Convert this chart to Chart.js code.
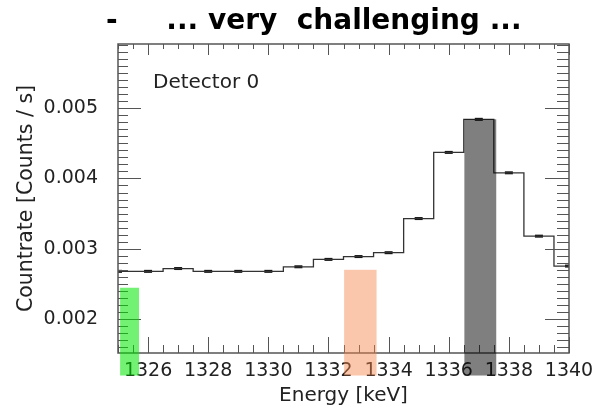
<!DOCTYPE html>
<html>
<head>
<meta charset="utf-8">
<script src="https://cdn.jsdelivr.net/npm/chart.js@4/dist/chart.umd.min.js"></script>
<style>
    html, body { margin: 0; padding: 0; background: #fff; }
    #wrap { width: 595px; height: 410px; }
</style>
</head>
<body>
<div id="wrap"><canvas id="myChart" width="595" height="410"></canvas></div>
<script>
// Spectrum of detector 0, one bin per keV
const energy = [1325, 1326, 1327, 1328, 1329, 1330, 1331, 1332, 1333, 1334, 1335, 1336, 1337, 1338, 1339, 1340];
const countrate = [0.00268, 0.00268, 0.00272, 0.00268, 0.00268, 0.00268, 0.002745, 0.00285, 0.00289, 0.002945,
    0.00343, 0.00437, 0.00484, 0.00408, 0.00318, 0.002755];

const xTickValues = [1326, 1328, 1330, 1332, 1334, 1336, 1338, 1340];
const yTickValues = [0.002, 0.003, 0.004, 0.005];

// shaded energy windows
const bandFrom = [1325.07, 1332.52, 1336.52];
const bandTo = [1325.7, 1333.6, 1337.58];
const bandTop = [0.002447, 0.002702, 0.00484];
const bandBottom = [0.0012, 0.0012, 0.0012];
const bandColours = ['rgba(0, 230, 0, 0.55)', 'rgba(245, 130, 70, 0.45)', 'rgba(0, 0, 0, 0.5)'];

const LINE_COLOUR = '#333';
const AXIS_COLOUR = '#555';
const FONT = 'DejaVu Sans';

// frame with inward ticks on all four sides
const framePlugin = {
    id: 'frame',
    afterDatasetsDraw(chart) {
        const { ctx, chartArea: a, scales: { x, y } } = chart;
        ctx.save();
        ctx.strokeStyle = AXIS_COLOUR;
        ctx.lineWidth = 1;
        ctx.beginPath();
        for (let k = 2650; k <= 2680; k++) {
            const px = Math.round(x.getPixelForValue(k / 2)) + 0.5;
            const major = k % 4 === 0;
            ctx.moveTo(px, a.bottom);
            ctx.lineTo(px, a.bottom - (major ? 16 : 8));
            ctx.moveTo(px, a.top);
            ctx.lineTo(px, a.top + (major ? 11 : 5));
        }
        for (let k = 16; k <= 59; k++) {
            const py = Math.round(y.getPixelForValue(k / 10000)) + 0.5;
            const major = k % 10 === 0;
            ctx.moveTo(a.left, py);
            ctx.lineTo(a.left + (major ? 23 : 10), py);
            ctx.moveTo(a.right, py);
            ctx.lineTo(a.right - (major ? 24 : 12), py);
        }
        ctx.stroke();
        ctx.lineWidth = 1.5;
        ctx.strokeRect(a.left, a.top, a.right - a.left, a.bottom - a.top);

        ctx.fillStyle = '#222';
        ctx.font = '20px "' + FONT + '"';
        ctx.textBaseline = 'middle';
        ctx.fillText('Detector 0', a.left + 35, a.top + 39);
        ctx.restore();
    },
    afterDraw(chart) {
        const { ctx, scales: { x, y } } = chart;
        ctx.save();
        bandFrom.forEach((from, i) => {
            const x0 = x.getPixelForValue(from);
            const x1 = x.getPixelForValue(bandTo[i]);
            const y0 = y.getPixelForValue(bandTop[i]);
            const y1 = y.getPixelForValue(bandBottom[i]);
            ctx.fillStyle = bandColours[i];
            ctx.fillRect(x0, y0, x1 - x0, y1 - y0);
        });
        ctx.restore();
    }
};

const histData = energy.map((e, i) => ({ x: e, y: countrate[i] }));

const ctx = document.getElementById('myChart');
const myChart = new Chart(ctx, {
    type: 'line',
    data: {
        datasets: [{
            label: 'Countrate',
            data: histData,
            stepped: 'middle',
            borderColor: LINE_COLOUR,
            borderWidth: 1.3,
            pointRadius: 0,
            fill: false
        }, {
            label: 'Errors',
            data: histData,
            showLine: false,
            pointStyle: 'line',
            pointRadius: 4,
            pointBorderWidth: 3,
            pointBorderColor: '#111',
            pointBackgroundColor: '#111'
        }]
    },
    options: {
        responsive: false,
        animation: false,
        layout: { padding: { top: 0, right: 26, bottom: 0, left: 0 } },
        plugins: {
            legend: { display: false },
            tooltip: { enabled: false },
            title: {
                display: true,
                text: '      -     ... very  challenging ...',
                color: '#000',
                font: { family: FONT, size: 28, weight: 'bold' },
                padding: { top: 5, bottom: 5.4 }
            }
        },
        scales: {
            x: {
                type: 'linear',
                min: 1325,
                max: 1340,
                grid: { display: false },
                border: { display: false },
                afterBuildTicks: (scale) => { scale.ticks = xTickValues.map(v => ({ value: v })); },
                afterFit: (scale) => {
                    scale.height = 57;
                    scale.paddingLeft = 0;
                    scale.paddingRight = 0;
                },
                ticks: {
                    color: '#222',
                    padding: -1,
                    maxRotation: 0,
                    autoSkip: false,
                    font: { family: FONT, size: 19 },
                    callback: (v) => String(v)
                },
                title: {
                    display: true,
                    text: 'Energy [keV]',
                    color: '#222',
                    font: { family: FONT, size: 20 },
                    padding: { top: 0, bottom: 2 }
                }
            },
            y: {
                type: 'linear',
                min: 0.00152,
                max: 0.00591,
                grid: { display: false },
                border: { display: false },
                afterBuildTicks: (scale) => { scale.ticks = yTickValues.map(v => ({ value: v })); },
                afterFit: (scale) => { scale.width = 118; },
                ticks: {
                    color: '#222',
                    padding: 12,
                    font: { family: FONT, size: 19 },
                    callback: (v) => v.toFixed(3)
                },
                title: {
                    display: true,
                    text: 'Countrate [Counts / s]',
                    color: '#222',
                    font: { family: FONT, size: 20.5 },
                    padding: { top: 14, bottom: 0 }
                }
            }
        }
    },
    plugins: [framePlugin]
});
</script>
</body>
</html>
